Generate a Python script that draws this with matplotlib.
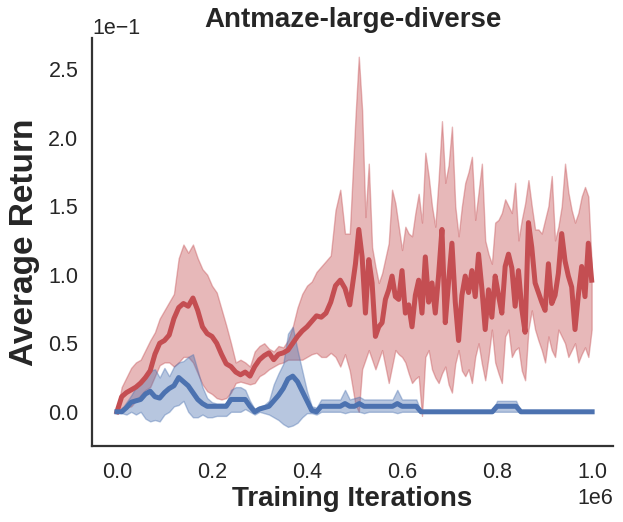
import numpy as np
import matplotlib
matplotlib.use('Agg')
import matplotlib.pyplot as plt

# values are read in units of 1e-1 (as on the y axis), x in units of 1e6
red_color = '#c44e52'
blue_color = '#4c72b0'

# red run: first part logged every 0.01e6, second part every 0.007e6
red_x_early = np.arange(0, 50) * 0.01
red_x_late = 0.502 + np.arange(0, 72) * 0.007

red_mean_early = [0.00, 0.11, 0.14, 0.16, 0.18, 0.21, 0.25, 0.30, 0.42, 0.50,
                  0.52, 0.56, 0.68, 0.76, 0.79, 0.77, 0.83, 0.74, 0.62, 0.57,
                  0.55, 0.50, 0.42, 0.35, 0.33, 0.29, 0.27, 0.29, 0.26, 0.33,
                  0.38, 0.41, 0.43, 0.38, 0.42, 0.43, 0.45, 0.50, 0.55, 0.59,
                  0.62, 0.66, 0.70, 0.69, 0.72, 0.80, 0.92, 0.96, 0.90, 0.78]
red_hi_early = [0.00, 0.18, 0.25, 0.32, 0.36, 0.38, 0.45, 0.52, 0.58, 0.68,
                0.74, 0.80, 0.86, 1.12, 1.22, 1.16, 1.22, 1.12, 1.04, 1.00,
                0.92, 0.87, 0.75, 0.63, 0.50, 0.36, 0.38, 0.36, 0.33, 0.44,
                0.48, 0.50, 0.46, 0.44, 0.48, 0.47, 0.52, 0.62, 0.76, 0.86,
                0.92, 0.95, 1.02, 1.06, 1.10, 1.14, 1.47, 1.62, 1.30, 1.30]
red_lo_early = [0.00, 0.03, 0.03, 0.04, 0.08, 0.12, 0.16, 0.18, 0.26, 0.34,
                0.36, 0.36, 0.33, 0.36, 0.40, 0.40, 0.36, 0.28, 0.20, 0.15,
                0.13, 0.10, 0.09, 0.10, 0.14, 0.21, 0.22, 0.21, 0.20, 0.21,
                0.26, 0.28, 0.31, 0.33, 0.35, 0.36, 0.38, 0.38, 0.38, 0.38,
                0.40, 0.42, 0.43, 0.40, 0.40, 0.43, 0.40, 0.33, 0.42, 0.30]

red_mean_late = [1.08, 1.33, 1.13, 0.72, 1.11, 0.94, 0.55, 0.62, 0.65, 0.82,
                 0.89, 0.99, 0.84, 0.82, 1.03, 0.72, 0.78, 0.62, 0.85, 0.96,
                 0.72, 1.13, 0.80, 0.94, 0.72, 1.00, 1.33, 0.65, 0.95, 1.23,
                 0.80, 0.52, 0.85, 0.99, 0.87, 1.03, 0.84, 1.15, 0.90, 0.60,
                 0.89, 0.69, 0.99, 0.85, 0.72, 1.06, 1.15, 1.05, 0.77, 1.03,
                 0.75, 0.58, 1.38, 1.20, 0.94, 0.87, 0.80, 0.74, 1.08, 0.79,
                 0.85, 1.01, 1.30, 1.10, 0.99, 0.91, 0.60, 0.85, 1.06, 0.84,
                 1.23, 0.96]
red_hi_late = [2.15, 2.59, 2.20, 1.42, 1.81, 1.20, 1.06, 0.94, 1.01, 1.12,
               1.23, 1.62, 1.52, 1.35, 1.18, 1.35, 1.30, 1.28, 1.45, 1.59,
               1.38, 1.89, 1.72, 1.50, 1.35, 1.70, 2.12, 1.67, 1.80, 2.08,
               1.50, 1.28, 1.50, 1.67, 1.75, 1.86, 1.40, 1.60, 1.81, 1.25,
               1.15, 1.08, 1.38, 1.40, 1.45, 1.55, 1.50, 1.45, 1.67, 1.25,
               1.40, 1.52, 1.69, 1.50, 1.33, 1.33, 1.30, 1.40, 1.50, 1.72,
               1.25, 1.35, 1.50, 1.81, 1.60, 1.47, 1.38, 1.45, 1.57, 1.64,
               1.57, 1.08]
red_lo_late = [0.05, 0.00, 0.31, 0.38, 0.45, 0.38, 0.31, 0.38, 0.45, 0.33,
               0.21, 0.33, 0.45, 0.42, 0.40, 0.36, 0.28, 0.21, 0.24, 0.26,
               -0.03, 0.40, 0.45, 0.31, 0.25, 0.21, 0.28, 0.33, 0.20, 0.14,
               0.35, 0.45, 0.30, 0.26, 0.31, 0.21, 0.40, 0.50, 0.35, 0.23,
               0.40, 0.60, 0.36, 0.28, 0.21, 0.55, 0.60, 0.40, 0.45, 0.47,
               0.30, 0.23, 0.60, 0.74, 0.60, 0.52, 0.45, 0.36, 0.55, 0.45,
               0.40, 0.60, 0.55, 0.50, 0.40, 0.45, 0.50, 0.36, 0.42, 0.47,
               0.40, 0.60]

# blue run: logged every 0.01e6
blue_x = np.arange(0, 101) * 0.01
blue_mean = [0.00, 0.00, 0.03, 0.07, 0.08, 0.09, 0.13, 0.15, 0.11, 0.10,
             0.14, 0.17, 0.19, 0.25, 0.22, 0.19, 0.14, 0.09, 0.06, 0.04,
             0.04, 0.04, 0.04, 0.04, 0.09, 0.09, 0.09, 0.09, 0.04, 0.00,
             0.02, 0.03, 0.04, 0.08, 0.12, 0.17, 0.24, 0.26, 0.22, 0.15,
             0.08, 0.01, 0.00, 0.04, 0.04, 0.04, 0.04, 0.04, 0.06, 0.04,
             0.04, 0.06, 0.04, 0.04, 0.04, 0.04, 0.04, 0.04, 0.04, 0.06,
             0.04, 0.04, 0.04, 0.04, 0.00, 0.00, 0.00, 0.00, 0.00, 0.00,
             0.00, 0.00, 0.00, 0.00, 0.00, 0.00, 0.00, 0.00, 0.00, 0.00,
             0.04, 0.04, 0.04, 0.04, 0.04, 0.00, 0.00, 0.00, 0.00, 0.00,
             0.00, 0.00, 0.00, 0.00, 0.00, 0.00, 0.00, 0.00, 0.00, 0.00,
             0.00]
blue_hi = [0.00, 0.02, 0.07, 0.12, 0.18, 0.22, 0.25, 0.30, 0.31, 0.25,
           0.32, 0.26, 0.33, 0.36, 0.37, 0.40, 0.42, 0.30, 0.18, 0.10,
           0.07, 0.06, 0.06, 0.06, 0.16, 0.18, 0.18, 0.16, 0.08, 0.02,
           0.04, 0.05, 0.08, 0.20, 0.28, 0.35, 0.57, 0.62, 0.45, 0.30,
           0.15, 0.04, 0.03, 0.09, 0.09, 0.09, 0.09, 0.09, 0.16, 0.09,
           0.10, 0.11, 0.09, 0.09, 0.09, 0.09, 0.09, 0.09, 0.09, 0.16,
           0.09, 0.09, 0.09, 0.09, 0.00, 0.00, 0.00, 0.00, 0.00, 0.00,
           0.00, 0.00, 0.00, 0.00, 0.00, 0.00, 0.00, 0.00, 0.00, 0.00,
           0.08, 0.08, 0.08, 0.08, 0.08, 0.00, 0.00, 0.00, 0.00, 0.00,
           0.00, 0.00, 0.00, 0.00, 0.00, 0.00, 0.00, 0.00, 0.00, 0.00,
           0.00]
blue_lo = [0.00, -0.01, -0.02, 0.00, -0.02, 0.00, -0.05, -0.07, -0.06, -0.07,
           -0.02, 0.00, 0.04, 0.05, 0.08, 0.00, -0.04, -0.04, -0.02, -0.04,
           -0.04, -0.03, -0.03, -0.03, 0.00, 0.00, 0.00, 0.02, 0.00, -0.02,
           0.00, -0.01, -0.02, -0.04, -0.06, -0.09, -0.11, -0.10, -0.08, -0.04,
           -0.01, -0.01, -0.02, 0.00, 0.00, 0.00, 0.00, 0.00, -0.01, 0.00,
           0.00, 0.00, -0.01, 0.00, 0.00, 0.00, 0.00, 0.00, 0.00, -0.01,
           0.00, 0.00, 0.00, 0.00, 0.00, 0.00, 0.00, 0.00, 0.00, 0.00,
           0.00, 0.00, 0.00, 0.00, 0.00, 0.00, 0.00, 0.00, 0.00, 0.00,
           0.00, 0.00, 0.00, 0.00, 0.00, 0.00, 0.00, 0.00, 0.00, 0.00,
           0.00, 0.00, 0.00, 0.00, 0.00, 0.00, 0.00, 0.00, 0.00, 0.00,
           0.00]

plt.rcParams['font.family'] = ['Liberation Sans', 'DejaVu Sans']
plt.rcParams['text.color'] = '#262626'
plt.rcParams['axes.labelcolor'] = '#262626'
plt.rcParams['xtick.color'] = '#262626'
plt.rcParams['ytick.color'] = '#262626'

red_x = np.concatenate([red_x_early, red_x_late]) * 1e6
red_mean = np.array(red_mean_early + red_mean_late) * 0.1
red_hi = np.array(red_hi_early + red_hi_late) * 0.1
red_lo = np.array(red_lo_early + red_lo_late) * 0.1
bx = blue_x * 1e6

fig = plt.figure(figsize=(6.23, 5.22), dpi=100)
ax = fig.add_axes([0.148, 0.146, 0.836, 0.781])

ax.fill_between(red_x, red_lo, red_hi, color=red_color, alpha=0.4, linewidth=1)
ax.plot(red_x, red_mean, color=red_color, linewidth=3.6)
ax.fill_between(bx, np.array(blue_lo) * 0.1, np.array(blue_hi) * 0.1,
                color=blue_color, alpha=0.4, linewidth=1)
ax.plot(bx, np.array(blue_mean) * 0.1, color=blue_color, linewidth=3.6)

ax.set_xlim(-0.052e6, 1.044e6)
ax.set_ylim(-0.0248, 0.2726)
ax.set_xticks([0, 0.2e6, 0.4e6, 0.6e6, 0.8e6, 1.0e6])
ax.set_yticks([0, 0.05, 0.1, 0.15, 0.2, 0.25])
ax.ticklabel_format(style='sci', axis='both', scilimits=(0, 0))
ax.tick_params(axis='x', length=0, pad=12, labelsize=15.5)
ax.tick_params(axis='y', length=0, pad=10, labelsize=15.5)
ax.xaxis.get_offset_text().set_fontsize(15.5)
ax.yaxis.get_offset_text().set_fontsize(15.5)

for side in ['top', 'right']:
    ax.spines[side].set_visible(False)
for side in ['left', 'bottom']:
    ax.spines[side].set_color('#333333')
    ax.spines[side].set_linewidth(1.6)

ax.set_xlabel('Training Iterations', fontsize=20, fontweight='bold', labelpad=2)
ax.set_ylabel('Average Return', fontsize=24, fontweight='bold', labelpad=6)
ax.set_title('Antmaze-large-diverse', fontsize=20, fontweight='bold', pad=8)

fig.savefig('out.png', dpi=100)
